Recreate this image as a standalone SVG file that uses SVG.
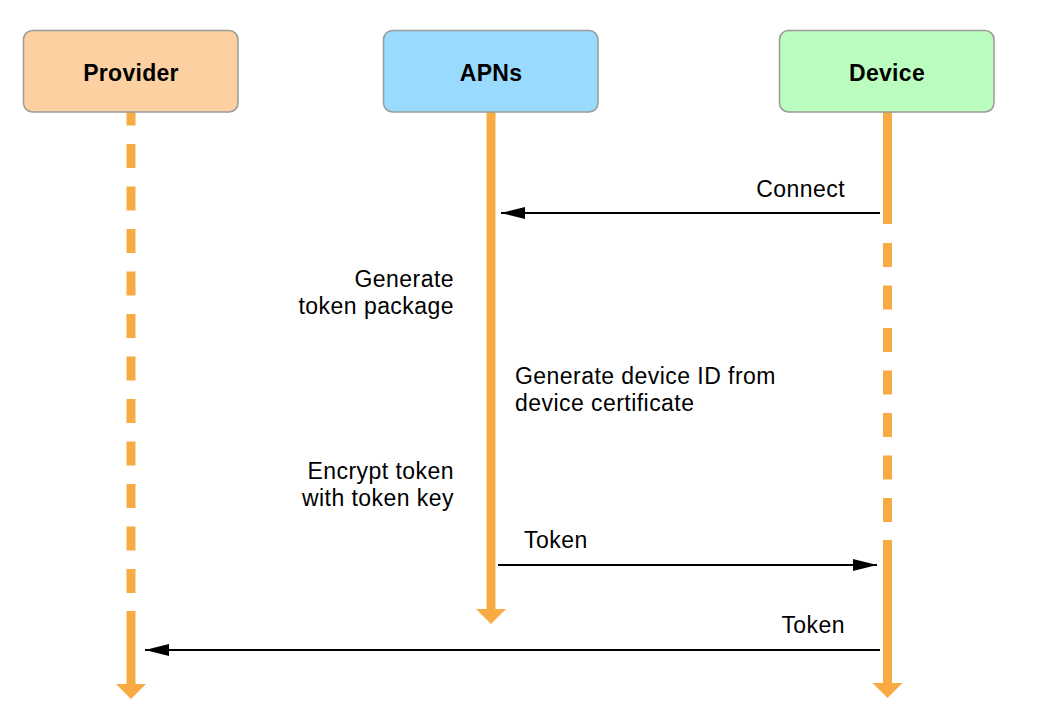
<svg xmlns="http://www.w3.org/2000/svg" width="1042" height="724" viewBox="0 0 1042 724">
<style>
.box{stroke:#9a9a9a;stroke-width:1.5}
.title{font-family:"Liberation Sans",Arial,sans-serif;font-size:23px;font-weight:bold;fill:#000;text-anchor:middle;letter-spacing:0.3px}
.lbl{font-family:"Liberation Sans",Arial,sans-serif;font-size:23px;fill:#000;letter-spacing:0.45px}
.life{stroke:#F8AB43;stroke-width:9;fill:none}
.dash{stroke-dasharray:24 18.5}
.head{fill:#F8AB43}
.msg{stroke:#000;stroke-width:2;fill:none}
.end{text-anchor:end}
</style>
<defs>
<marker id="ah" viewBox="0 0 24 12" refX="24" refY="6" markerWidth="24" markerHeight="12" markerUnits="userSpaceOnUse" orient="auto">
<path d="M0,0 L24,6 L0,12 Z" fill="#000"/>
</marker>
</defs>
<rect width="1042" height="724" fill="#fff"/>
<g id="lifelines">
<path class="life dash" d="M131,101.5 V611.5"/>
<path class="life" d="M131,611 V685"/>
<polygon class="head" points="116,684 146,684 131,699"/>
<path class="life" d="M491,105 V610"/>
<polygon class="head" points="476,609 506,609 491,624"/>
<path class="life" d="M887.5,105 V224"/>
<path class="life dash" d="M887.5,243 V540"/>
<path class="life" d="M887.5,540 V685"/>
<polygon class="head" points="872.5,683 902.5,683 887.5,698"/>
</g>
<g id="provider">
<rect class="box" x="23.5" y="30.5" width="214.5" height="81.5" rx="9" fill="#FDD0A2"/>
<text class="title" x="131" y="80.5">Provider</text>
</g>
<g id="apns">
<rect class="box" x="383.5" y="30.5" width="214.5" height="81.5" rx="9" fill="#99DBFE"/>
<text class="title" x="491" y="80.5">APNs</text>
</g>
<g id="device">
<rect class="box" x="779.5" y="30.5" width="214.5" height="81.5" rx="9" fill="#BBFDBE"/>
<text class="title" x="887" y="80.5">Device</text>
</g>
<g id="connectors">
<line class="msg" x1="880" y1="213" x2="501" y2="213" marker-end="url(#ah)"/>
<line class="msg" x1="498" y1="565" x2="877" y2="565" marker-end="url(#ah)"/>
<line class="msg" x1="880" y1="650" x2="145" y2="650" marker-end="url(#ah)"/>
</g>
<g id="labels">
<text class="lbl end" x="845" y="197">Connect</text>
<text class="lbl end" x="454" y="287">Generate</text>
<text class="lbl end" x="454" y="314">token package</text>
<text class="lbl" x="515" y="384">Generate device ID from</text>
<text class="lbl" x="515" y="411">device certificate</text>
<text class="lbl end" x="454" y="479">Encrypt token</text>
<text class="lbl end" x="454" y="506">with token key</text>
<text class="lbl" x="524" y="548">Token</text>
<text class="lbl end" x="845" y="633">Token</text>
</g>
</svg>
